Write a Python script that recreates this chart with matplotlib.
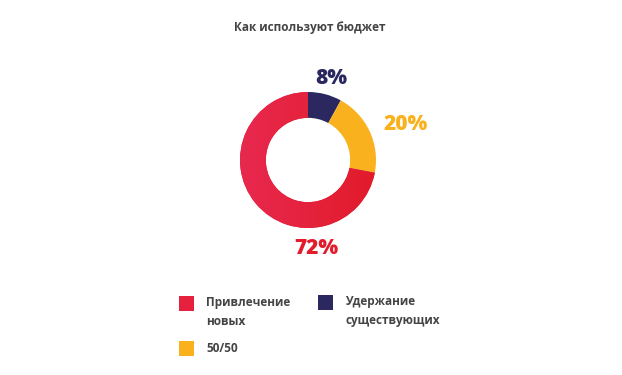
import numpy as np
import matplotlib
matplotlib.use("Agg")
import matplotlib.pyplot as plt
from matplotlib.colors import LinearSegmentedColormap
from matplotlib.patches import Rectangle

title = "Как используют бюджет"
labels = ["Удержание\nсуществующих", "50/50", "Привлечение\nновых"]
shares = [8, 20, 72]
colors = ["#2A285E", "#F9B21D", "#E5213D"]
text_colors = ["#2A285E", "#F9B21D", "#E31C2D"]
pct_text = ["8%", "20%", "72%"]

W, H = 622, 375
fig = plt.figure(figsize=(W / 100, H / 100), dpi=100)
ax = fig.add_axes([0, 0, 1, 1])
ax.set_xlim(0, W); ax.set_ylim(0, H)
ax.axis("off")

cx, cy, r = 308, H - 160, 68
wedges, _ = ax.pie(shares, colors=colors, startangle=90, counterclock=False,
                   center=(cx, cy), radius=r,
                   wedgeprops=dict(width=r * 0.38, linewidth=0))
ax.set_xlim(0, W); ax.set_ylim(0, H)
ax.set_aspect("auto")

# left-to-right gradient on the red segment
cmap = LinearSegmentedColormap.from_list("red", ["#E8294F", "#E21B2A"])
grad = np.linspace(0, 1, 256).reshape(1, -1)
im = ax.imshow(grad, cmap=cmap, extent=(cx - r, cx + r, cy - r, cy + r),
               aspect="auto", zorder=3)
im.set_clip_path(wedges[2])
ax.set_xlim(0, W); ax.set_ylim(0, H)

font = "Open Sans"
ax.text(310, H - 27, title, ha="center", va="center", fontsize=8.5,
        fontweight="bold", color="#444444", family=font)

pos = [(331, H - 78), (406, H - 124), (316, H - 249)]
for (x, y), t, c in zip(pos, pct_text, text_colors):
    ax.text(x, y, t, ha="center", va="center", fontsize=15, fontweight=800,
            color=c, family=font)

# legend
leg = [(179, 296, 2, 206, 312), (318, 295, 0, 345, 311), (179, 341, 1, 206, 348)]
for sx, sy, i, tx, ty in leg:
    ax.add_patch(Rectangle((sx, H - sy - 15), 15, 15, color=colors[i], lw=0))
    ax.text(tx, H - ty, labels[i], ha="left", va="center", fontsize=8.5,
            fontweight="bold", color="#444444", family=font, linespacing=1.55)

fig.savefig("out.png", dpi=100)
